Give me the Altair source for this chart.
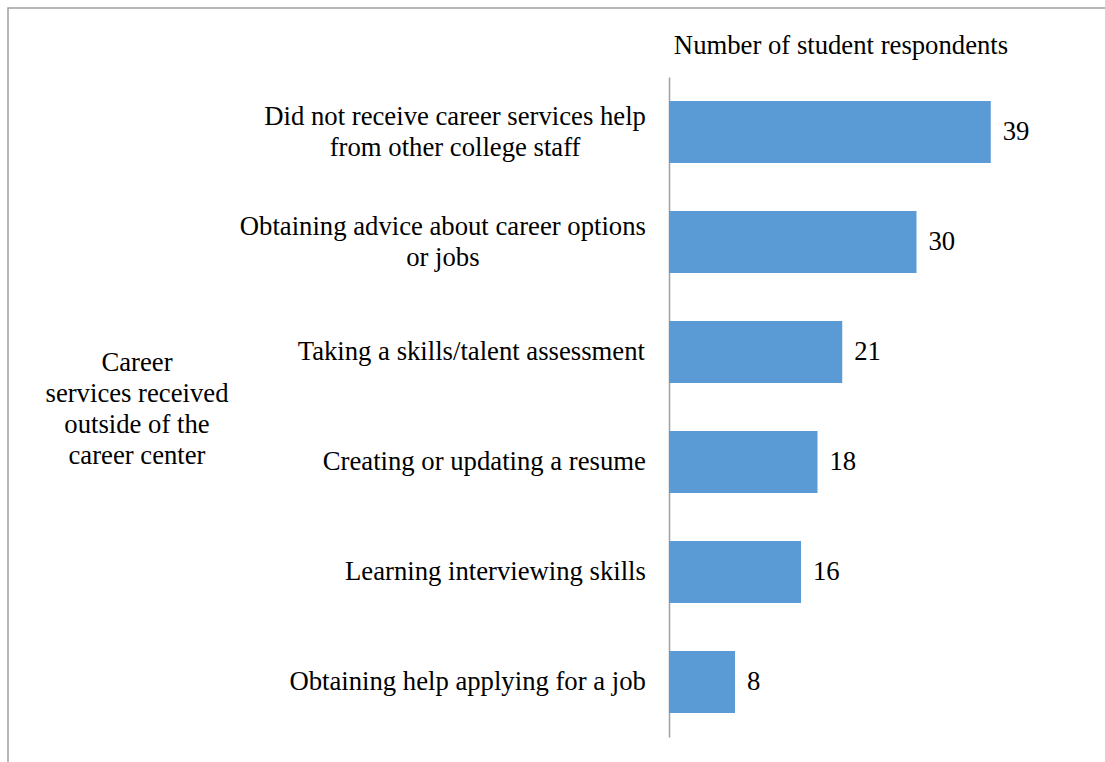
import altair as alt
import pandas as pd

categories = [
    "Did not receive career services help|from other college staff",
    "Obtaining advice about career options|or jobs",
    "Taking a skills/talent assessment",
    "Creating or updating a resume",
    "Learning interviewing skills",
    "Obtaining help applying for a job",
]
values = [39, 30, 21, 18, 16, 8]
axis_title = "Number of student respondents"
group_label = ["Career", "services received", "outside of the", "career center"]

FONT = "Liberation Serif, Times New Roman, serif"
FS = 26.7
LABEL_GAP = 23

# Times / Liberation Serif advance widths (per 1000 em) used to centre
# the lines of each wrapped label inside its right-aligned block
_W = {" ": 250, "/": 278, "a": 444, "b": 500, "c": 444, "d": 500, "e": 444,
      "f": 333, "g": 500, "h": 500, "i": 278, "j": 278, "k": 500, "l": 278,
      "m": 778, "n": 500, "o": 500, "p": 500, "q": 500, "r": 333, "s": 389,
      "t": 278, "u": 500, "v": 500, "w": 722, "x": 500, "y": 500, "z": 444,
      "C": 667, "D": 722, "L": 611, "O": 722, "T": 611, "N": 722}


def text_width(s):
    return sum(_W.get(ch, 500) for ch in s) * FS / 1000.0


df = pd.DataFrame({"category": categories, "value": values})

rows = []
for cat in categories:
    lines = cat.split("|")
    w = max(text_width(l) for l in lines)
    rows.append({"category": cat, "lines": lines, "n": len(lines),
                 "lx": -LABEL_GAP - w / 2.0})
lab_df = pd.DataFrame(rows)

y_scale = alt.Scale(paddingInner=0.436, paddingOuter=0.218)
y_enc = alt.Y(
    "category:N",
    sort=categories,
    title=None,
    scale=y_scale,
    axis=alt.Axis(
        labels=False,
        ticks=False,
        tickSize=0,
        domain=True,
        domainColor="#a0a0a0",
        domainWidth=1.5,
        grid=False,
    ),
)
x_enc = alt.X(
    "value:Q",
    scale=alt.Scale(domain=[0, 40], nice=False),
    axis=None,
)

bars = alt.Chart(df).mark_bar(color="#5B9BD5").encode(x=x_enc, y=y_enc)
values_text = alt.Chart(df).mark_text(
    align="left", baseline="middle", dx=12, font=FONT, fontSize=FS, color="black"
).encode(x=x_enc, y=alt.Y("category:N", sort=categories), text="value:Q")

cat_single = alt.Chart(lab_df).transform_filter("datum.n == 1").mark_text(
    align="center", baseline="middle", font=FONT, fontSize=FS, color="black",
    lineHeight=31,
).encode(
    x=alt.X("lx:Q", scale=None, axis=None),
    y=alt.Y("category:N", sort=categories),
    text="lines",
)
cat_double = alt.Chart(lab_df).transform_filter("datum.n == 2").mark_text(
    align="center", baseline="middle", font=FONT, fontSize=FS, color="black",
    lineHeight=31, dy=-15.5,
).encode(
    x=alt.X("lx:Q", scale=None, axis=None),
    y=alt.Y("category:N", sort=categories),
    text="lines",
)

title_df = pd.DataFrame({"t": [axis_title]})
title = alt.Chart(title_df).mark_text(
    align="center", baseline="middle", font=FONT, fontSize=FS, color="black"
).encode(x=alt.value(172), y=alt.value(-31), text="t:N")

group_df = pd.DataFrame({"t": [group_label]})
group = alt.Chart(group_df).mark_text(
    align="center", baseline="middle", font=FONT, fontSize=FS, color="black",
    lineHeight=31,
).encode(x=alt.value(-532), y=alt.value(286), text="t")

border = alt.Chart(pd.DataFrame({"a": [0]})).mark_rect(
    fill=None, stroke="#a0a0a0", strokeWidth=1.5
).encode(x=alt.value(-661), x2=alt.value(600), y=alt.value(-69), y2=alt.value(800))

chart = alt.layer(
    border, bars, values_text, cat_single, cat_double, title, group
).resolve_scale(x="independent").properties(
    width=330,
    height=660,
    background="white",
    autosize=alt.AutoSizeParams(type="none"),
    padding={"left": 669, "top": 77, "right": 106, "bottom": 25},
).configure_view(strokeWidth=0, stroke="transparent")

chart.save("out.html", embed_options={"renderer": "svg", "actions": False})
